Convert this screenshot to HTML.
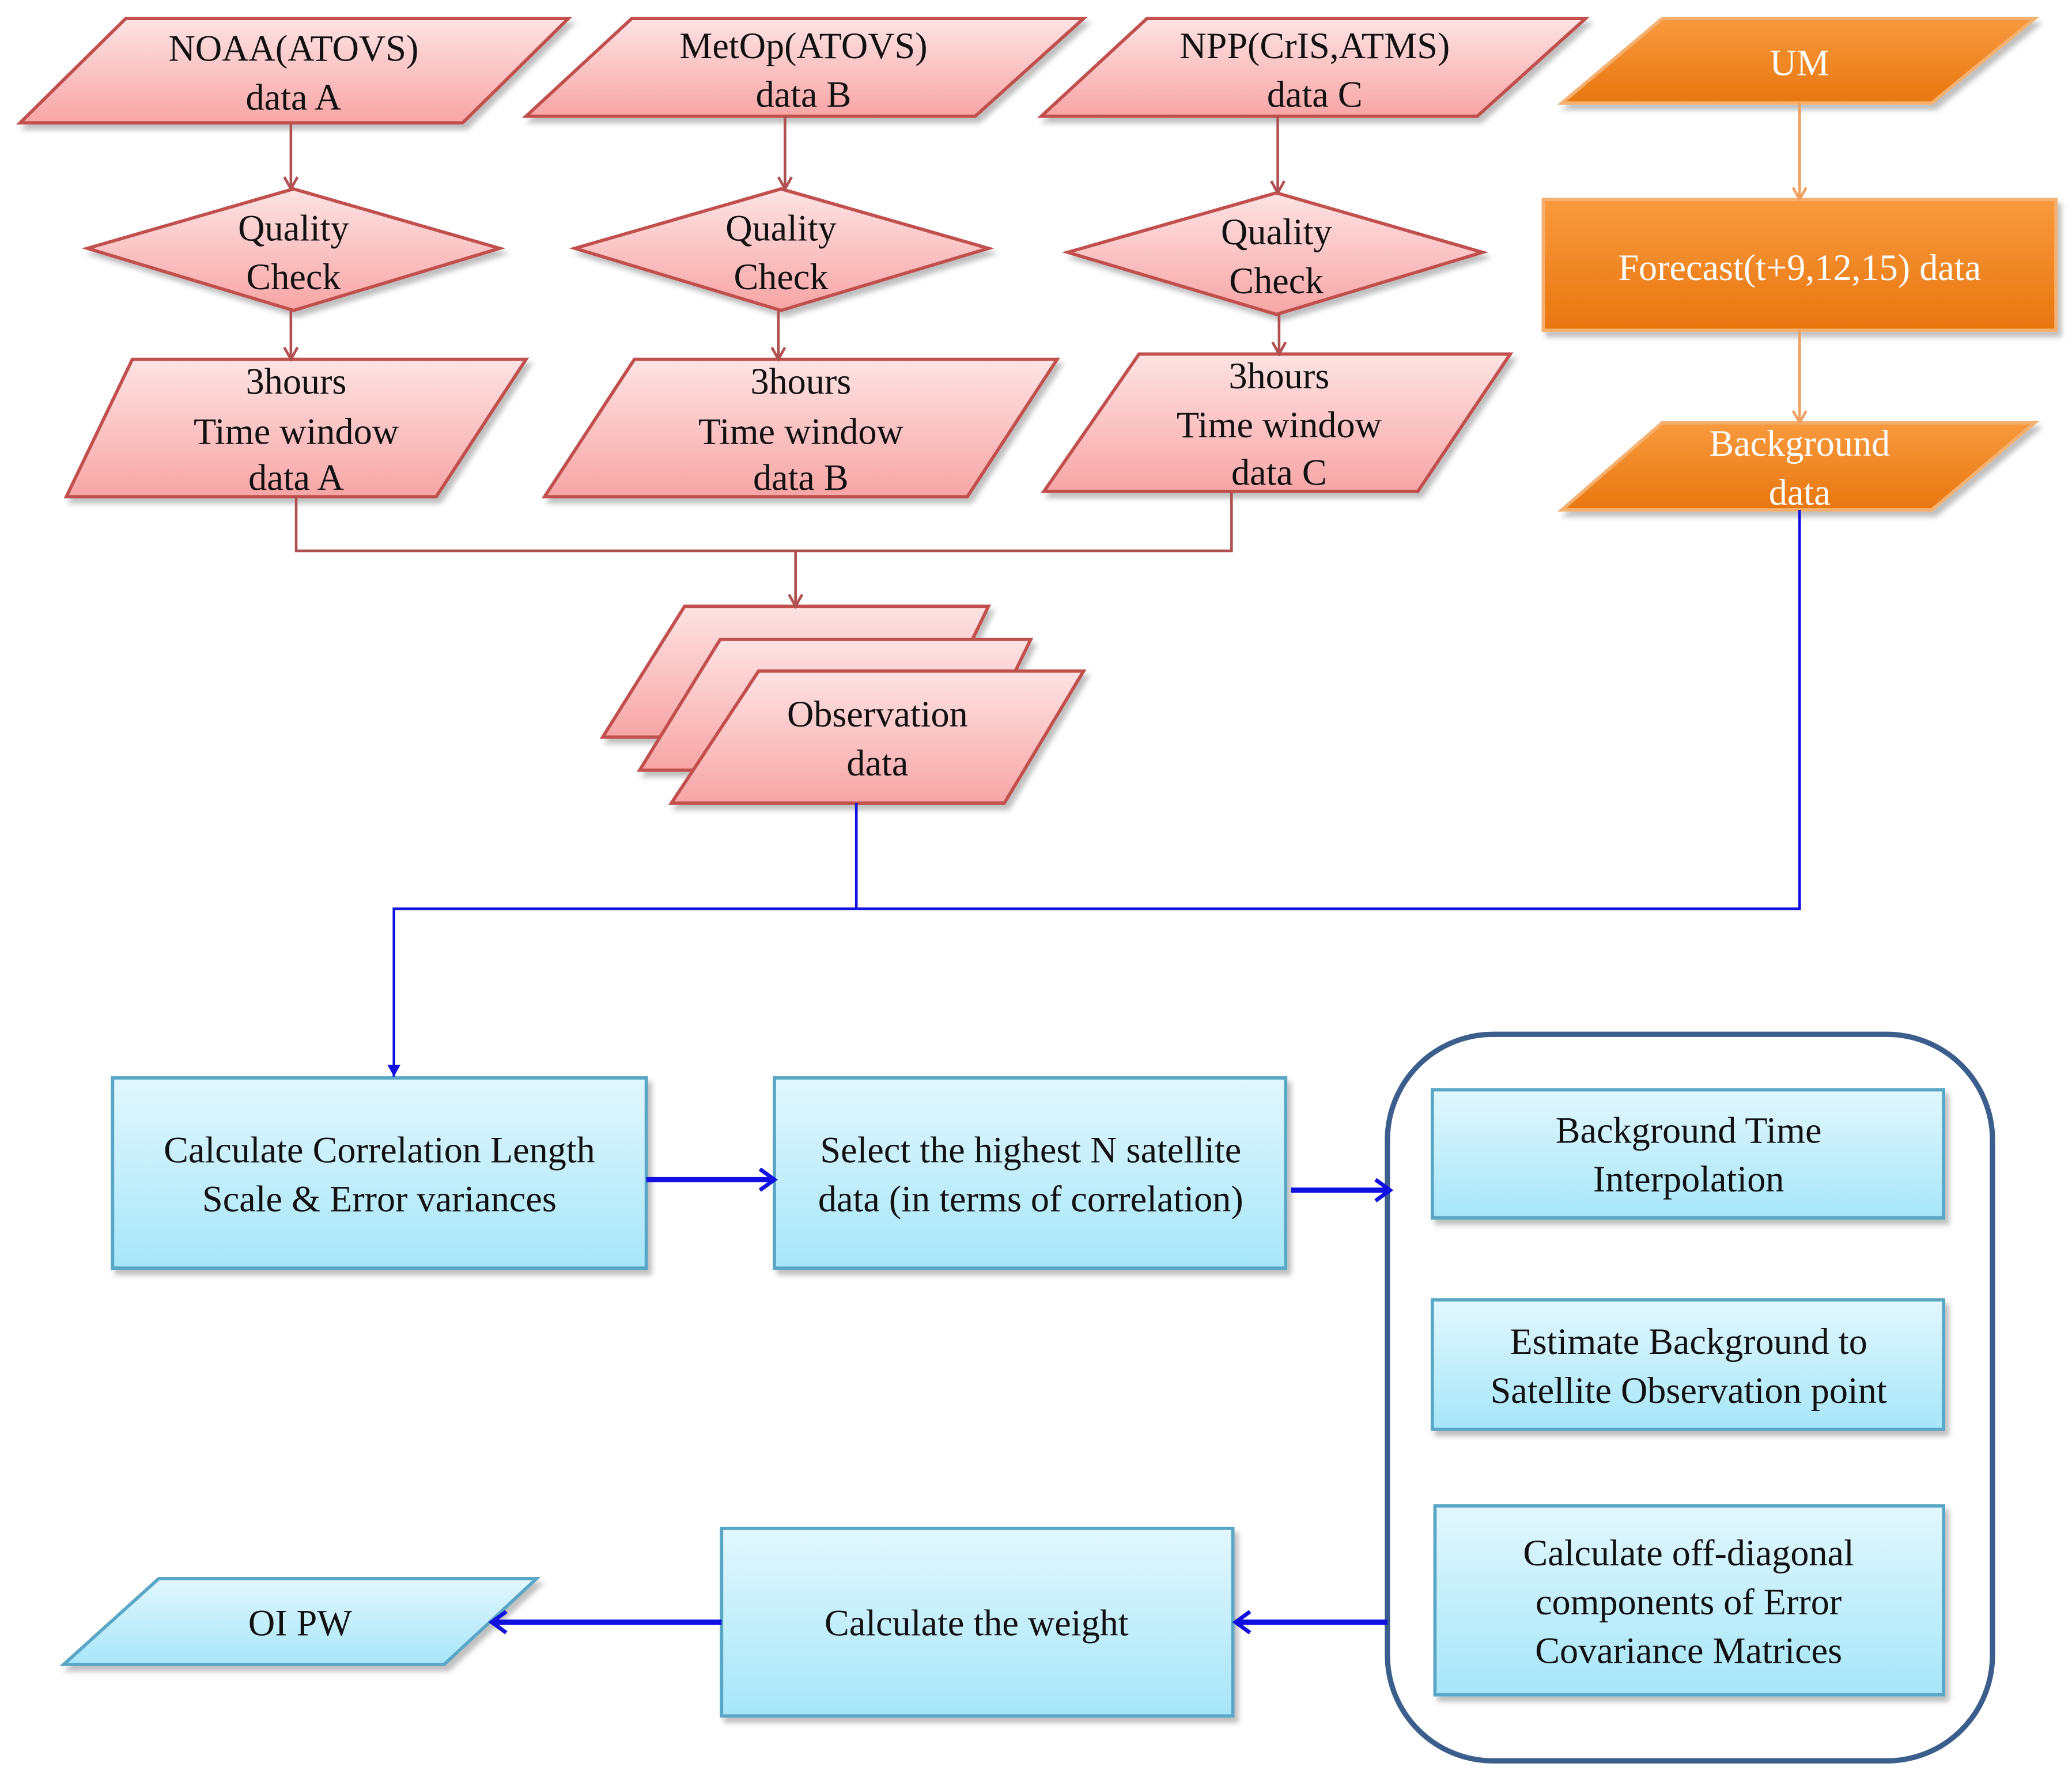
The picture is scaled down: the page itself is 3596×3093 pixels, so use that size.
<!DOCTYPE html>
<html><head><meta charset="utf-8"><style>
html,body{margin:0;padding:0;background:#fff;}
svg{display:block;}
text{font-family:"Liberation Serif",serif;font-size:28px;fill:#111;text-anchor:middle;}
</style></head><body>
<svg width="3596" height="3093" viewBox="0 0 1568 1349" xmlns="http://www.w3.org/2000/svg">
<defs>
<linearGradient id="pk" x1="0" y1="0" x2="0" y2="1"><stop offset="0" stop-color="#fde3e3"/><stop offset="1" stop-color="#f8a5a5"/></linearGradient>
<linearGradient id="or" x1="0" y1="0" x2="0" y2="1"><stop offset="0" stop-color="#f89a3e"/><stop offset="1" stop-color="#e8760f"/></linearGradient>
<linearGradient id="bl" x1="0" y1="0" x2="0" y2="1"><stop offset="0" stop-color="#e2f7fd"/><stop offset="1" stop-color="#a6e6f9"/></linearGradient>
<marker id="ar" markerWidth="12" markerHeight="12" refX="10" refY="6" orient="auto" markerUnits="userSpaceOnUse"><path d="M1,1 L10,6 L1,11" fill="none" stroke="#b05050" stroke-width="2"/></marker>
<marker id="ao" markerWidth="12" markerHeight="12" refX="10" refY="6" orient="auto" markerUnits="userSpaceOnUse"><path d="M1,1 L10,6 L1,11" fill="none" stroke="#f0a060" stroke-width="2"/></marker>
<marker id="ab" markerWidth="12" markerHeight="12" refX="10" refY="6" orient="auto" markerUnits="userSpaceOnUse"><path d="M1,1 L10,6 L1,11 Z" fill="#1010e0"/></marker>
<marker id="abt" markerWidth="16" markerHeight="18" refX="13" refY="9" orient="auto" markerUnits="userSpaceOnUse"><path d="M2,1 L13,9 L2,17" fill="none" stroke="#1010e0" stroke-width="3"/></marker>
<filter id="sh" x="-5%" y="-5%" width="115%" height="125%"><feDropShadow dx="3" dy="4" stdDeviation="2" flood-color="#000" flood-opacity="0.25"/></filter>
</defs>

<g stroke="#c0504d" stroke-width="2.5" fill="url(#pk)" filter="url(#sh)">
<polygon points="95,14 430,14 350,93 15,93"/>
<polygon points="478,14 820,14 738,88 398,88"/>
<polygon points="868,14 1200,14 1118,88 788,88"/>
<polygon points="222,143 378,188 222,235 66,188"/>
<polygon points="591,143 748,188 591,235 435,188"/>
<polygon points="966,146 1122,191 966,238 808,191"/>
<polygon points="100,272 398,272 330,376 50,376"/>
<polygon points="480,272 800,272 732,376 412,376"/>
<polygon points="862,268 1143,268 1073,372 790,372"/>
<polygon points="518,459 748,459 700,558 456,558"/>
<polygon points="545,484 780,484 732,583 484,583"/>
<polygon points="574,508 820,508 760,608 508,608"/>
</g>
<g stroke="#f5b070" stroke-width="2.5" fill="url(#or)" filter="url(#sh)">
<polygon points="1258,14 1540,14 1462,78 1182,78"/>
<rect x="1168" y="151" width="388" height="99"/>
<polygon points="1258,320 1540,320 1462,386 1182,386"/>
</g>
<g stroke="#5aa6c6" stroke-width="2.5" fill="url(#bl)" filter="url(#sh)">
<rect x="85" y="816" width="404" height="144"/>
<rect x="586" y="816" width="387" height="144"/>
<rect x="1084" y="825" width="387" height="97"/>
<rect x="1084" y="984" width="387" height="98"/>
<rect x="1086" y="1140" width="385" height="143"/>
<rect x="546" y="1157" width="387" height="142"/>
<polygon points="120,1195 406,1195 336,1260 48,1260"/>
</g>
<rect x="1050" y="783" width="458" height="550" rx="80" ry="80" fill="none" stroke="#3c5e8c" stroke-width="4"/>

<g stroke="#b05050" stroke-width="2" fill="none">
<line x1="220" y1="93" x2="220" y2="143" marker-end="url(#ar)"/>
<line x1="594" y1="88" x2="594" y2="143" marker-end="url(#ar)"/>
<line x1="967" y1="88" x2="967" y2="146" marker-end="url(#ar)"/>
<line x1="220" y1="235" x2="220" y2="272" marker-end="url(#ar)"/>
<line x1="589" y1="235" x2="589" y2="272" marker-end="url(#ar)"/>
<line x1="968" y1="238" x2="968" y2="268" marker-end="url(#ar)"/>
<polyline points="224,376 224,417 932,417 932,372"/>
<line x1="602" y1="417" x2="602" y2="459" marker-end="url(#ar)"/>
</g>
<g stroke="#f0a060" stroke-width="2" fill="none">
<line x1="1362" y1="78" x2="1362" y2="151" marker-end="url(#ao)"/>
<line x1="1362" y1="250" x2="1362" y2="320" marker-end="url(#ao)"/>
</g>
<g stroke="#1010e0" stroke-width="2" fill="none">
<polyline points="648,608 648,688 1362,688 1362,386"/>
<polyline points="648,688 298,688 298,815" marker-end="url(#ab)"/>
</g>
<g stroke="#1010e0" stroke-width="4" fill="none">
<line x1="489" y1="893" x2="586" y2="893" marker-end="url(#abt)"/>
<line x1="977" y1="901" x2="1052" y2="901" marker-end="url(#abt)"/>
<line x1="1050" y1="1228" x2="935" y2="1228" marker-end="url(#abt)"/>
<line x1="546" y1="1228" x2="372" y2="1228" marker-end="url(#abt)"/>
</g>

<text x="222" y="46">NOAA(ATOVS)</text><text x="222" y="83">data A</text>
<text x="608" y="44">MetOp(ATOVS)</text><text x="608" y="81">data B</text>
<text x="995" y="44">NPP(CrIS,ATMS)</text><text x="995" y="81">data C</text>
<text x="1362" y="57" style="fill:#fff">UM</text>
<text x="1362" y="212" style="fill:#fff">Forecast(t+9,12,15) data</text>
<text x="1362" y="345" style="fill:#fff">Background</text><text x="1362" y="382" style="fill:#fff">data</text>
<text x="222" y="182">Quality</text><text x="222" y="219">Check</text>
<text x="591" y="182">Quality</text><text x="591" y="219">Check</text>
<text x="966" y="185">Quality</text><text x="966" y="222">Check</text>
<text x="224" y="298">3hours</text><text x="224" y="336">Time window</text><text x="224" y="371">data A</text>
<text x="606" y="298">3hours</text><text x="606" y="336">Time window</text><text x="606" y="371">data B</text>
<text x="968" y="294">3hours</text><text x="968" y="331">Time window</text><text x="968" y="367">data C</text>
<text x="664" y="550">Observation</text><text x="664" y="587">data</text>
<text x="287" y="880">Calculate Correlation Length</text><text x="287" y="917">Scale &amp; Error variances</text>
<text x="780" y="880">Select the highest N satellite</text><text x="780" y="917">data (in terms of correlation)</text>
<text x="1278" y="865">Background Time</text><text x="1278" y="902">Interpolation</text>
<text x="1278" y="1025">Estimate Background to</text><text x="1278" y="1062">Satellite Observation point</text>
<text x="1278" y="1185">Calculate off-diagonal</text><text x="1278" y="1222">components  of  Error</text><text x="1278" y="1259">Covariance Matrices</text>
<text x="739" y="1238">Calculate the weight</text>
<text x="227" y="1238">OI PW</text>
</svg>
</body></html>
